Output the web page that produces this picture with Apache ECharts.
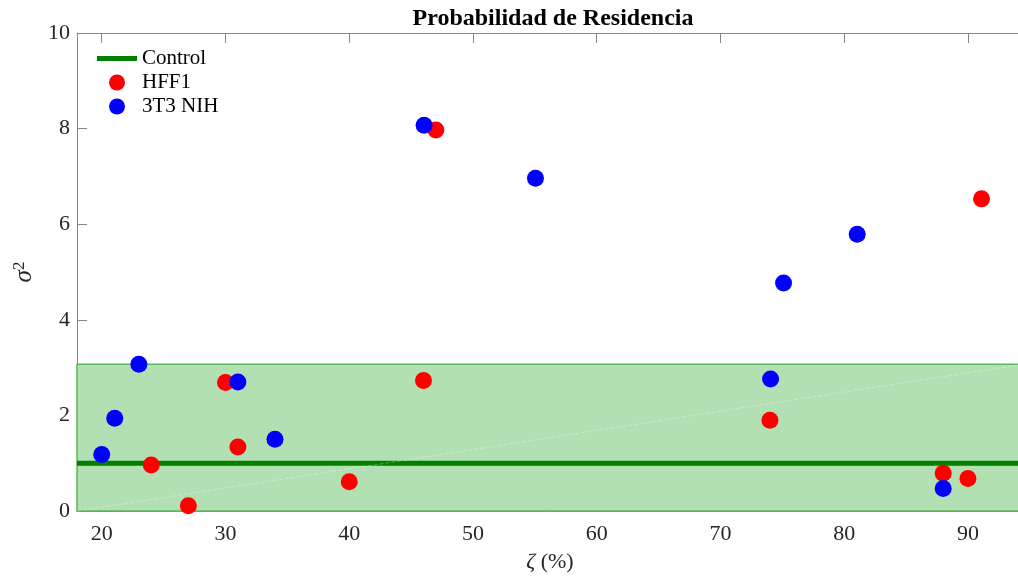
<!DOCTYPE html>
<html>
<head>
<meta charset="utf-8">
<script src="https://cdn.jsdelivr.net/npm/echarts@6/dist/echarts.min.js"></script>
<style>
  html, body { margin: 0; padding: 0; background: #fff; }
  #chart { width: 1018px; height: 577px; }
</style>
</head>
<body>
<div id="chart"></div>
<script>
// data
var hffX = [24, 27, 30, 31, 40, 46, 47, 74, 88, 90, 91.1];
var hffY = [0.96, 0.11, 2.69, 1.34, 0.61, 2.73, 7.97, 1.90, 0.79, 0.68, 6.53];
var nihX = [20, 21.05, 23, 31, 34, 46.05, 55.05, 74.05, 75.1, 81.05, 88];
var nihY = [1.18, 1.94, 3.07, 2.70, 1.50, 8.07, 6.96, 2.76, 4.77, 5.79, 0.47];
var controlLevel = 1;
var bandLow = 0;
var bandHigh = 3.07;
var xMin = 18, xMax = 94.45;
var yMin = 0, yMax = 10, yStep = 2;

var serif = '"Liberation Serif", "Times New Roman", serif';
var axisGray = '#868686';
var labelInk = '#262626';

function pairs(xs, ys) {
  return xs.map(function(x, i) { return [x, ys[i]]; });
}

var chart = echarts.init(document.getElementById('chart'), null, { renderer: 'canvas' });
chart.setOption({
  animation: false,
  title: {
    text: 'Probabilidad de Residencia',
    left: 548, top: 2, textAlign: 'center',
    textStyle: { fontFamily: serif, fontSize: 24, fontWeight: 'bold', color: '#000' }
  },
  legend: {
    orient: 'vertical',
    left: 97, top: 48, padding: 0,
    itemWidth: 40, itemHeight: 16, itemGap: 3,
    textStyle: { fontFamily: serif, fontSize: 21, color: '#000' },
    data: [
      { name: 'Control', icon: 'path://M0,0L40,0L40,5L0,5Z' },
      { name: 'HFF1', icon: 'circle' },
      { name: '3T3 NIH', icon: 'circle' }
    ]
  },
  grid: { left: 77, right: -5, top: 33, bottom: 66, outerBoundsMode: 'none' },
  xAxis: [{
    type: 'value', min: xMin, max: xMax, splitNumber: 8,
    position: 'bottom',
    name: '{i|ζ} (%)', nameLocation: 'middle', nameGap: 40,
    nameTextStyle: {
      fontFamily: serif, fontSize: 22, color: labelInk,
      rich: { i: { fontFamily: serif, fontSize: 22, fontStyle: 'italic', color: labelInk } }
    },
    axisLine: { lineStyle: { color: axisGray } },
    axisTick: { inside: true, length: 8, lineStyle: { color: axisGray } },
    axisLabel: {
      fontFamily: serif, fontSize: 22, color: labelInk, margin: 12,
      formatter: function(v) { return v % 10 === 0 ? v : ''; }
    },
    splitLine: { show: false }
  }, {
    type: 'value', min: xMin, max: xMax, splitNumber: 8,
    position: 'top',
    axisLine: { lineStyle: { color: axisGray } },
    axisTick: { inside: true, length: 10, lineStyle: { color: axisGray } },
    axisLabel: { show: false },
    splitLine: { show: false }
  }],
  yAxis: {
    type: 'value', min: yMin, max: yMax, interval: yStep,
    name: '{i|σ}{s|2}', nameLocation: 'middle', nameGap: 32, nameRotate: 90,
    nameTextStyle: {
      rich: {
        i: { fontFamily: serif, fontSize: 25, fontStyle: 'italic', color: labelInk },
        s: { fontFamily: serif, fontSize: 17, color: labelInk, verticalAlign: 'top', padding: [0, 0, 10, 0] }
      }
    },
    axisLine: { show: true, lineStyle: { color: axisGray } },
    axisTick: { inside: true, length: 10, lineStyle: { color: axisGray } },
    axisLabel: { fontFamily: serif, fontSize: 22, color: labelInk, margin: 7 },
    splitLine: { show: false }
  },
  series: [{
    name: 'Control',
    type: 'line',
    symbol: 'none',
    data: [[xMin, controlLevel], [xMax, controlLevel]],
    lineStyle: { color: '#007f00', width: 5 },
    itemStyle: { color: '#007f00' },
    z: 3,
    markArea: {
      silent: true,
      itemStyle: { color: '#b3e0b3', borderColor: '#5cb85c', borderWidth: 1.5 },
      data: [[{ yAxis: bandLow }, { yAxis: bandHigh }]]
    },
    markLine: {
      silent: true,
      symbol: 'none',
      label: { show: false },
      lineStyle: { color: 'rgba(255,255,255,0.3)', type: 'dashed', width: 1 },
      data: [[{ coord: [xMin, bandLow] }, { coord: [xMax, bandHigh] }]]
    }
  }, {
    name: 'HFF1',
    type: 'scatter',
    symbol: 'circle',
    symbolSize: 17,
    itemStyle: { color: '#ff0000', opacity: 1 },
    data: pairs(hffX, hffY),
    z: 4
  }, {
    name: '3T3 NIH',
    type: 'scatter',
    symbol: 'circle',
    symbolSize: 17,
    itemStyle: { color: '#0000ff', opacity: 1 },
    data: pairs(nihX, nihY),
    z: 5
  }]
});
window.addEventListener('resize', function() { chart.resize(); });
</script>
</body>
</html>
